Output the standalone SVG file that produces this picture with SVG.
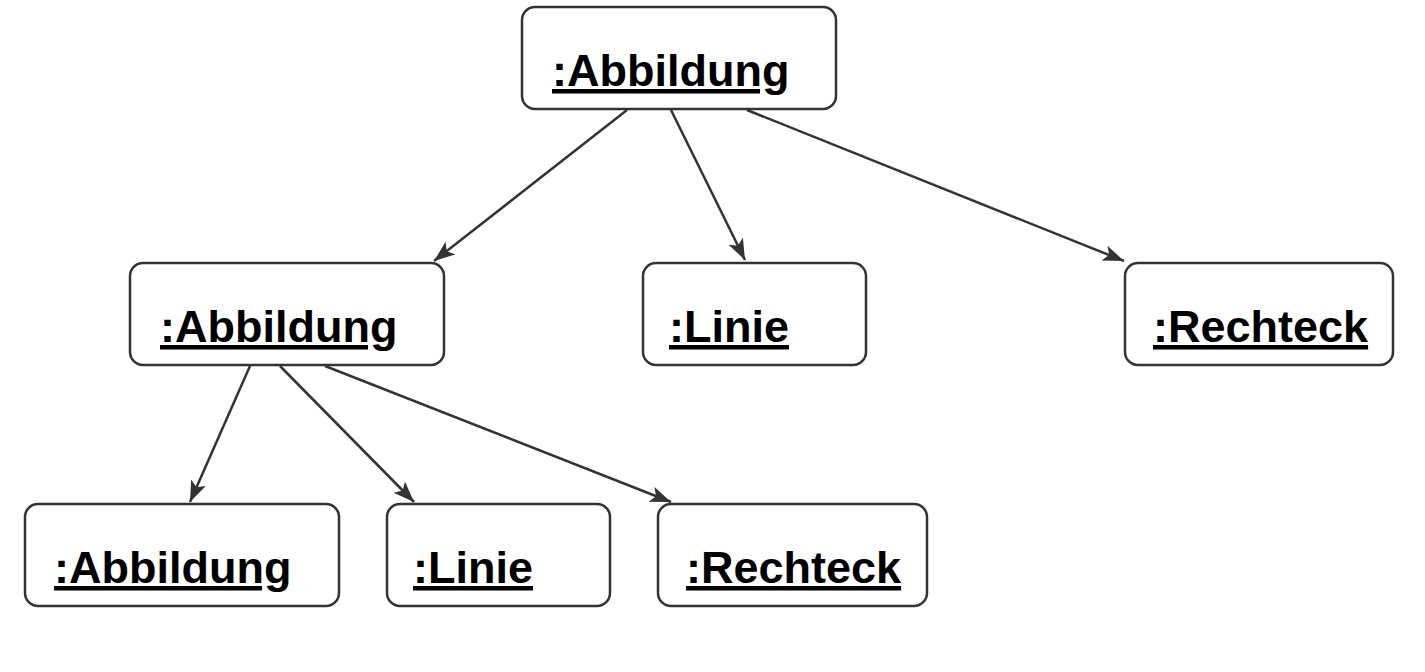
<svg xmlns="http://www.w3.org/2000/svg" width="1425" height="672" viewBox="0 0 1425 672">
<style>
.box{fill:#fff;stroke:#333;stroke-width:2.5}
.lbl{font-family:"Liberation Sans",Arial,sans-serif;font-weight:bold;font-size:45px;fill:#000;text-decoration:underline}
.edge{stroke:#333;stroke-width:2.5;fill:none;marker-end:url(#arr)}
</style>
<defs>
<marker id="arr" markerUnits="userSpaceOnUse" markerWidth="24" markerHeight="18" refX="21" refY="8" orient="auto">
<path d="M0,0 L21,8 L0,16 L5,8 Z" fill="#333"/>
</marker>
</defs>
<rect width="1425" height="672" fill="#fff"/>
<g id="connectors">
<line class="edge" x1="627" y1="110" x2="434" y2="261"/>
<line class="edge" x1="671" y1="110" x2="745" y2="260"/>
<line class="edge" x1="747" y1="110" x2="1124" y2="261"/>
<line class="edge" x1="250" y1="366" x2="190" y2="502"/>
<line class="edge" x1="280" y1="366" x2="414" y2="502"/>
<line class="edge" x1="325" y1="366" x2="671" y2="502"/>
</g>
<g id="n_top"><rect class="box" x="522" y="7" width="314" height="102" rx="13"/><text class="lbl" x="552" y="86">:Abbildung</text></g>
<g id="n_mid_abb"><rect class="box" x="130" y="263" width="314" height="102" rx="13"/><text class="lbl" x="160" y="342">:Abbildung</text></g>
<g id="n_mid_linie"><rect class="box" x="643" y="263" width="223" height="102" rx="13"/><text class="lbl" x="669" y="342">:Linie</text></g>
<g id="n_mid_rect"><rect class="box" x="1125" y="263" width="268" height="102" rx="13"/><text class="lbl" x="1153" y="342">:Rechteck</text></g>
<g id="n_bot_abb"><rect class="box" x="25" y="504" width="314" height="102" rx="13"/><text class="lbl" x="54" y="583">:Abbildung</text></g>
<g id="n_bot_linie"><rect class="box" x="387" y="504" width="223" height="102" rx="13"/><text class="lbl" x="413" y="583">:Linie</text></g>
<g id="n_bot_rect"><rect class="box" x="658" y="504" width="269" height="102" rx="13"/><text class="lbl" x="686" y="583">:Rechteck</text></g>
</svg>
